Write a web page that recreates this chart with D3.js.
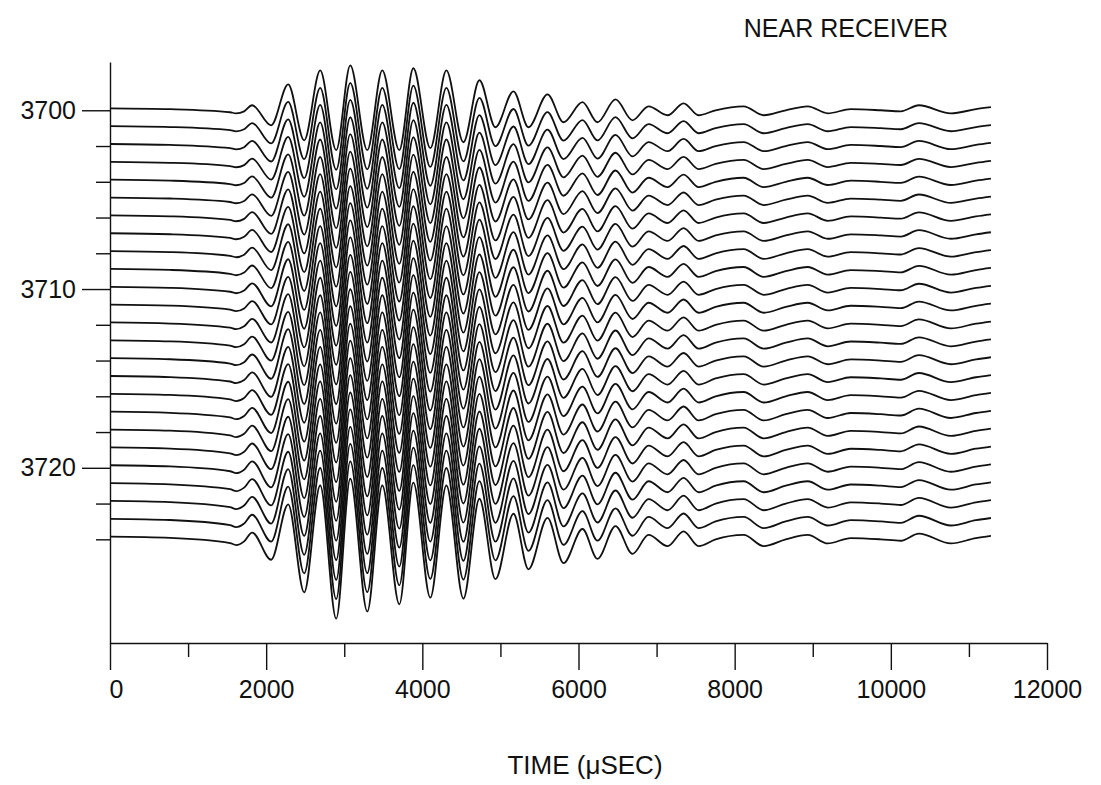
<!DOCTYPE html>
<html>
<head>
<meta charset="utf-8">
<script src="https://cdn.jsdelivr.net/npm/d3@7.9.0/dist/d3.min.js"></script>
<style>
  body { margin: 0; background: #fff; }
  svg { display: block; }
  text { font-family: "Liberation Sans", Arial, Helvetica, sans-serif; fill: #111; }
</style>
</head>
<body>
<svg width="1101" height="785"></svg>
<script>
// receiver depths, one trace each
const depths = [3700, 3701, 3702, 3703, 3704, 3705, 3706, 3707, 3708, 3709, 3710, 3711, 3712,
  3713, 3714, 3715, 3716, 3717, 3718, 3719, 3720, 3721, 3722, 3723, 3724];

// waveform of the top trace, read at its turning points (time in usec, offset in depth units, + is down)
const waveTimes = [0, 769, 1538, 1615, 1718, 1820, 2064, 2282, 2487, 2692, 2897, 3077, 3295, 3487,
  3705, 3885, 4102, 4308, 4526, 4731, 4936, 5167, 5359, 5603, 5808, 6051, 6243, 6474, 6692, 6897,
  7141, 7346, 7538, 7756, 8115, 8372, 8654, 8936, 9192, 9487, 9871, 10128, 10359, 10769, 11090, 11282];
const waveAmps = [-0.11, -0.06, 0.11, 0.17, 0.06, -0.28, 0.84, -1.45, 1.68, -2.23, 2.23, -2.51, 2.23, -2.23,
  2.23, -2.35, 2.12, -2.23, 1.79, -1.68, 0.95, -1.06, 0.95, -0.89, 0.67, -0.45, 0.67, -0.61, 0.56, -0.22,
  0.28, -0.39, 0.28, 0, -0.22, 0.28, 0, -0.22, 0.17, -0.06, 0, 0.06, -0.28, 0.17, -0.06, -0.17];
// how much of the depth growth shows at each turning point
const waveGrowth = [1, 1, 1, 1, 1, 1, 0.4, 1, 0.85, 1, 1.1, 1, 0.9, 1,
  0.7, 1, 0.6, 1, 0.95, 1, 1.5, 1, 0.85, 1, 1.1, 0.8, 0.7, 0.6, 0.5, 0.4,
  0.4, 0.4, 0.4, 0.4, 0.4, 0.4, 0.4, 0.4, 0.4, 0.4, 0.4, 0.4, 0.4, 0.4, 0.4, 0.4];

// the swing grows with depth, more on the downward side
const upGain = [1.00, 1.01, 1.03, 1.04, 1.06, 1.07, 1.09, 1.10, 1.12, 1.13, 1.15, 1.16, 1.18,
  1.19, 1.21, 1.22, 1.24, 1.25, 1.27, 1.28, 1.30, 1.31, 1.33, 1.34, 1.35];
const downGain = [1.00, 1.04, 1.08, 1.11, 1.15, 1.19, 1.23, 1.26, 1.30, 1.34, 1.38, 1.41, 1.45,
  1.49, 1.53, 1.56, 1.60, 1.64, 1.68, 1.71, 1.75, 1.79, 1.83, 1.86, 1.90];

const xMajor = [0, 2000, 4000, 6000, 8000, 10000, 12000];
const xMinor = [1000, 3000, 5000, 7000, 9000, 11000];
const yMajor = [3700, 3710, 3720];
const yMinor = [3702, 3704, 3706, 3708, 3712, 3714, 3716, 3718, 3722, 3724];

const svg = d3.select('svg');

const x = d3.scaleLinear().domain([0, 12000]).range([110, 1047]);
const y = d3.scaleLinear().domain([3697.3, 3729.8]).range([62, 643]);

// build traces
const traces = depths.map((dep, i) => waveTimes.map((t, j) => {
  const a = waveAmps[j];
  const g = a < 0 ? upGain[i] : downGain[i];
  return { t, v: dep + a * (1 + (g - 1) * waveGrowth[j]) };
}));

const line = d3.line()
  .x(d => x(d.t))
  .y(d => y(d.v))
  .curve(d3.curveMonotoneX);

svg.append('g')
  .selectAll('path')
  .data(traces)
  .join('path')
  .attr('d', line)
  .attr('fill', 'none')
  .attr('stroke', '#111')
  .attr('stroke-width', 1.8)
  .attr('stroke-linejoin', 'round');

// x axis
const xAxis = svg.append('g')
  .attr('transform', `translate(0,${y.range()[1]})`)
  .call(d3.axisBottom(x).tickValues(xMajor).tickSize(27).tickSizeOuter(0).tickPadding(10).tickFormat(d3.format('d')));
// the zero label sits a little right of its tick
xAxis.selectAll('.tick text').filter(d => d === 0).attr('dx', 6);
svg.append('g')
  .attr('transform', `translate(0,${y.range()[1]})`)
  .call(d3.axisBottom(x).tickValues(xMinor).tickSize(14).tickFormat('').tickSizeOuter(0))
  .select('.domain').remove();

// y axis
svg.append('g')
  .attr('transform', `translate(${x.range()[0]},0)`)
  .call(d3.axisLeft(y).tickValues(yMajor).tickSize(28).tickSizeOuter(0).tickPadding(6).tickFormat(d3.format('d')));
svg.append('g')
  .attr('transform', `translate(${x.range()[0]},0)`)
  .call(d3.axisLeft(y).tickValues(yMinor).tickSize(14).tickFormat('').tickSizeOuter(0))
  .select('.domain').remove();

svg.selectAll('.domain, .tick line').attr('stroke', '#111').attr('stroke-width', 1.4);
svg.selectAll('.tick text').style('font-size', '25px').style('font-family', '"Liberation Sans", Arial, sans-serif').attr('fill', '#111');

// titles
svg.append('text')
  .attr('x', 585).attr('y', 774)
  .attr('text-anchor', 'middle')
  .style('font-size', '26px')
  .text('TIME (\u03bcSEC)');

svg.append('text')
  .attr('x', 948).attr('y', 37)
  .attr('text-anchor', 'end')
  .style('font-size', '25px')
  .text('NEAR RECEIVER');
</script>
</body>
</html>
